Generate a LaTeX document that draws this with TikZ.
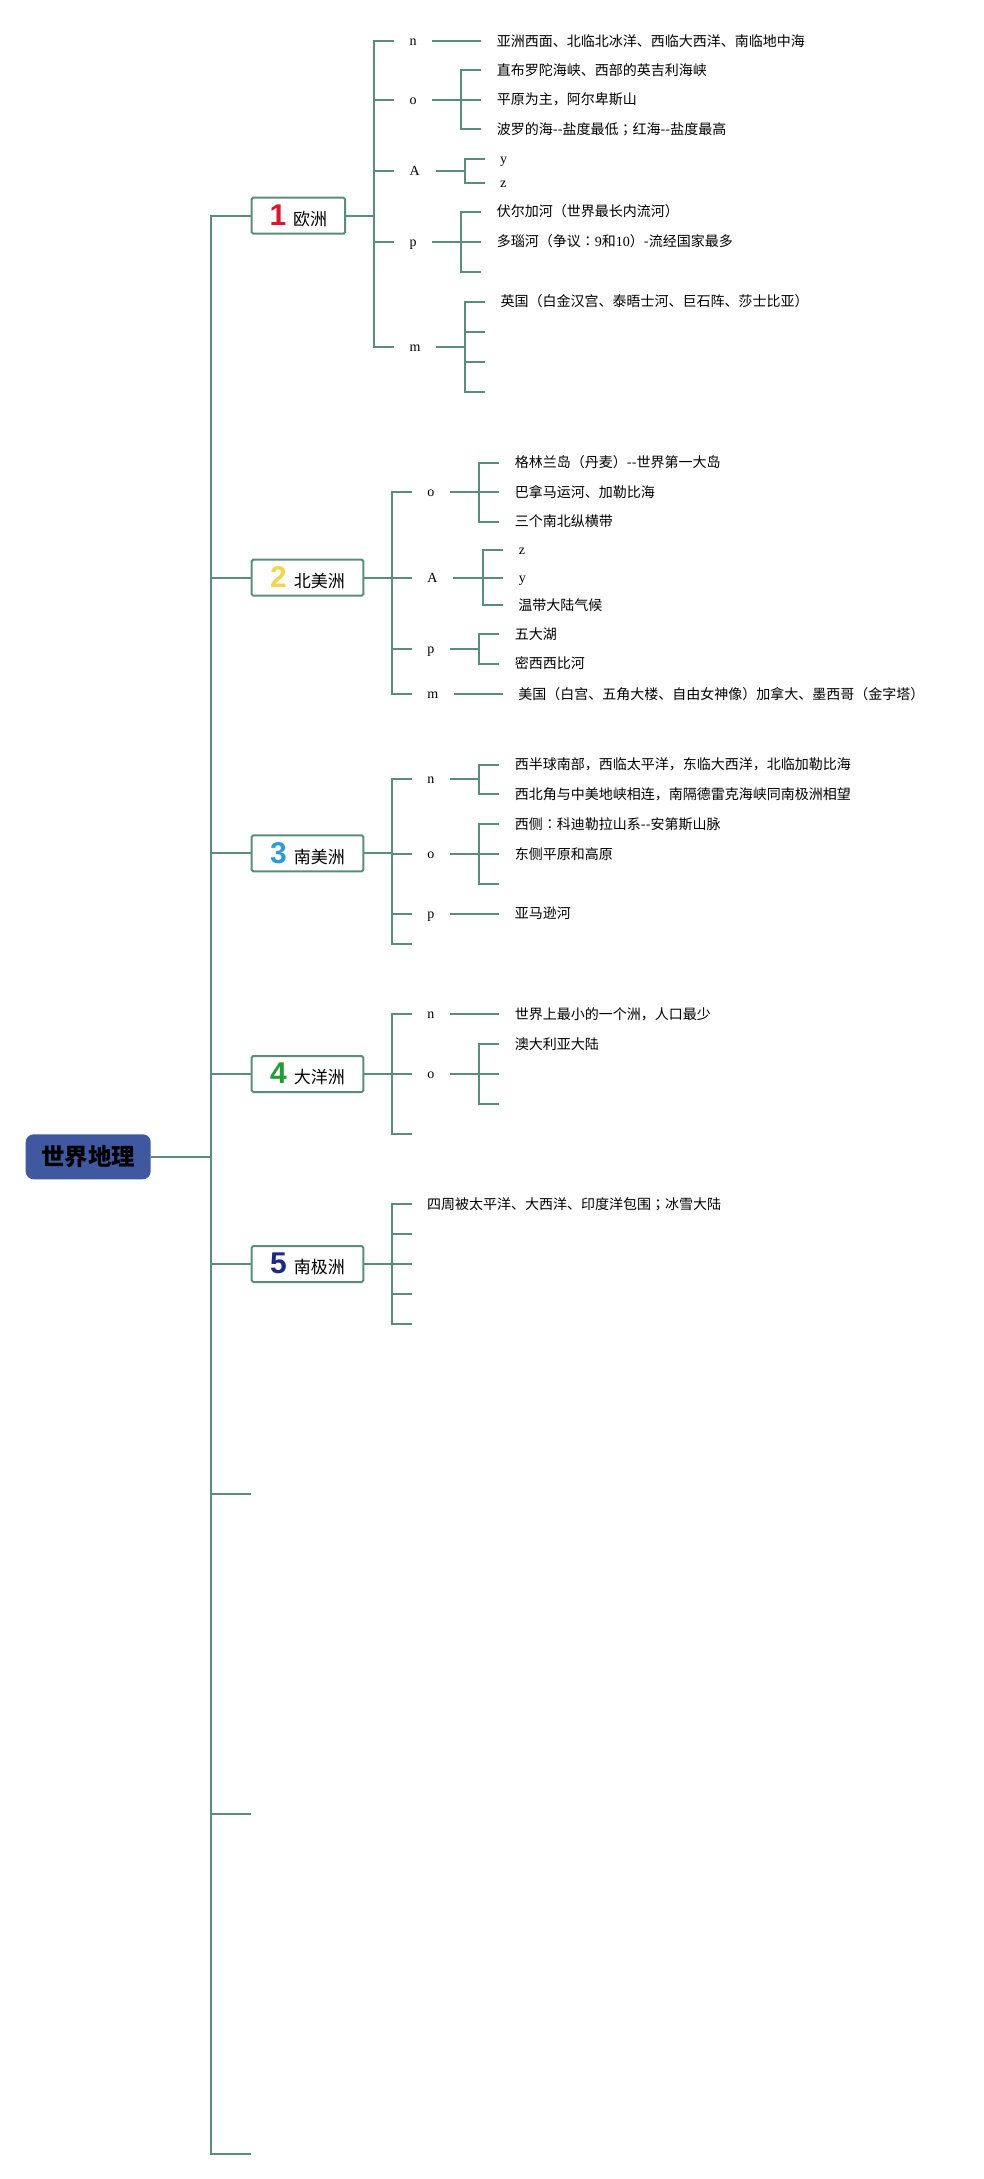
\documentclass[tikz,border=0pt]{standalone}
\usepackage{fontspec}
\setmainfont{Liberation Serif}
\newfontfamily\cjk{Noto Sans CJK SC}
\newfontfamily\cjkt{Noto Sans CJK TC}
\newfontfamily\dig{Liberation Sans}
\usetikzlibrary{calc}
\definecolor{ln}{HTML}{5B8D7F}
\definecolor{rootc}{HTML}{3F58A0}
\definecolor{nA}{HTML}{D7182F}
\definecolor{nB}{HTML}{F3D54B}
\definecolor{nC}{HTML}{2C9BDA}
\definecolor{nD}{HTML}{1E9E34}
\definecolor{nE}{HTML}{1D2A7E}
\newcommand\boxlab[3]{{\dig\bfseries\fontsize{30}{30}\selectfont\color{#1}#2}\hspace{7pt}{\cjk\fontsize{17}{17}\selectfont #3}}
\newcommand\cpunct[1]{{\cjkt #1}}
\begin{document}
\begin{tikzpicture}[x=1pt,y=-1pt,
  wire/.style={draw=ln,line width=2pt},
  elbow/.style={to path={-| ($(\tikztotarget)+(-#1,0)$) -- (\tikztotarget)}},
  elbow/.default=20,
  rootbox/.style={fill=rootc,rounded corners=8pt,minimum width=125pt,minimum height=45pt,inner sep=0pt,font=\cjk\bfseries\fontsize{23.5}{23.5}\selectfont},
  lvone/.style={draw=ln,line width=2pt,fill=white,minimum height=36pt,inner sep=0pt,rounded corners=1.5pt,anchor=west},
  lab/.style={anchor=west,inner xsep=15.5pt,inner ysep=1pt,text height=10pt,text depth=1pt,font=\rmfamily\fontsize{14}{14}\selectfont},
  leaf/.style={anchor=west,inner xsep=16pt,inner ysep=2pt,font=\cjk\fontsize{14}{16}\selectfont},
  sleaf/.style={anchor=west,inner xsep=15.5pt,inner ysep=1pt,text height=10pt,text depth=1pt,font=\rmfamily\fontsize{14}{14}\selectfont}]
\fill[white] (0,0) rectangle (984,2179);
\useasboundingbox (0,0) rectangle (984,2179);

% root
\node[rootbox] (root) at (88.2,1156.8) {世界地理};

% level 1
\node[lvone,minimum width=93.3pt] (B1) at (250.7,215.7) {\boxlab{nA}{1}{欧洲}};
\node[lvone,minimum width=111.6pt] (B2) at (250.7,577.7) {\boxlab{nB}{2}{北美洲}};
\node[lvone,minimum width=111.6pt] (B3) at (250.7,853.3) {\boxlab{nC}{3}{南美洲}};
\node[lvone,minimum width=111.6pt] (B4) at (250.7,1074) {\boxlab{nD}{4}{大洋洲}};
\node[lvone,minimum width=111.6pt] (B5) at (250.7,1264) {\boxlab{nE}{5}{南极洲}};
\coordinate (E6) at (250.7,1493.7);
\coordinate (E7) at (250.7,1813.7);
\coordinate (E8) at (250.7,2153.7);

\foreach \t in {B1,B2,B3,B4,B5,E6,E7,E8}
  \draw[wire] (root.east) to[elbow=40] (\t.west);

% ---------- B1 欧洲 ----------
\node[lab] (b1n) at (394,41) {n};
\node[lab] (b1o) at (394,99.5) {o};
\node[lab] (b1A) at (394,171) {A};
\node[lab] (b1p) at (394,241.5) {p};
\node[lab] (b1m) at (394,346.5) {m};
\foreach \t in {b1n,b1o,b1A,b1p,b1m}
  \draw[wire] (B1.east) to[elbow] (\t.west);

\node[leaf] (b1n1) at (480.7,41) {亚洲西面、北临北冰洋、西临大西洋、南临地中海};
\draw[wire] (b1n.east) to[elbow] (b1n1.west);

\node[leaf] (b1o1) at (480.7,70) {直布罗陀海峡、西部的英吉利海峡};
\node[leaf] (b1o2) at (480.7,99.5) {平原为主，阿尔卑斯山};
\node[leaf] (b1o3) at (480.7,129) {波罗的海-{}-盐度最低\cpunct{；}红海-{}-盐度最高};
\foreach \t in {b1o1,b1o2,b1o3}
  \draw[wire] (b1o.east) to[elbow] (\t.west);

\node[sleaf] (b1A1) at (484.5,159) {y};
\node[sleaf] (b1A2) at (484.5,183) {z};
\foreach \t in {b1A1,b1A2}
  \draw[wire] (b1A.east) to[elbow] (\t.west);

\node[leaf] (b1p1) at (480.7,211.5) {伏尔加河（世界最长内流河）};
\node[leaf] (b1p2) at (480.7,241.5) {多瑙河（争议\cpunct{：}{\rmfamily 9}和{\rmfamily 10}）-流经国家最多};
\coordinate (b1p3) at (480.7,271.5);
\foreach \t in {b1p1,b1p2}
  \draw[wire] (b1p.east) to[elbow] (\t.west);
\draw[wire] (b1p.east) to[elbow] (b1p3);

\node[leaf] (b1m1) at (484.5,301.5) {英国（白金汉宫、泰晤士河、巨石阵、莎士比亚）};
\coordinate (b1m2) at (484.5,331.5);
\coordinate (b1m3) at (484.5,361.5);
\coordinate (b1m4) at (484.5,391.5);
\draw[wire] (b1m.east) to[elbow] (b1m1.west);
\foreach \t in {b1m2,b1m3,b1m4}
  \draw[wire] (b1m.east) to[elbow] (\t);

% ---------- B2 北美洲 ----------
\node[lab] (b2o) at (411.7,492) {o};
\node[lab] (b2A) at (411.7,577.7) {A};
\node[lab] (b2p) at (411.7,648.5) {p};
\node[lab] (b2m) at (411.7,694) {m};
\foreach \t in {b2o,b2A,b2p,b2m}
  \draw[wire] (B2.east) to[elbow] (\t.west);

\node[leaf] (b2o1) at (498.7,462.5) {格林兰岛（丹麦）-{}-世界第一大岛};
\node[leaf] (b2o2) at (498.7,492) {巴拿马运河、加勒比海};
\node[leaf] (b2o3) at (498.7,521.5) {三个南北纵横带};
\foreach \t in {b2o1,b2o2,b2o3}
  \draw[wire] (b2o.east) to[elbow] (\t.west);

\node[sleaf] (b2A1) at (503.2,550) {z};
\node[sleaf] (b2A2) at (503.2,577.7) {y};
\node[leaf,inner xsep=15pt] (b2A3) at (503.2,605) {温带大陆气候};
\foreach \t in {b2A1,b2A2,b2A3}
  \draw[wire] (b2A.east) to[elbow] (\t.west);

\node[leaf] (b2p1) at (498.7,634) {五大湖};
\node[leaf] (b2p2) at (498.7,663.5) {密西西比河};
\foreach \t in {b2p1,b2p2}
  \draw[wire] (b2p.east) to[elbow] (\t.west);

\node[leaf,inner xsep=15pt] (b2m1) at (503.2,694) {美国（白宫、五角大楼、自由女神像）加拿大、墨西哥（金字塔）};
\draw[wire] (b2m.east) to[elbow] (b2m1.west);

% ---------- B3 南美洲 ----------
\node[lab] (b3n) at (411.7,779) {n};
\node[lab] (b3o) at (411.7,854) {o};
\node[lab] (b3p) at (411.7,913.5) {p};
\coordinate (b3e) at (411.7,943.5);
\foreach \t in {b3n,b3o,b3p}
  \draw[wire] (B3.east) to[elbow] (\t.west);
\draw[wire] (B3.east) to[elbow] (b3e);

\node[leaf] (b3n1) at (498.7,764.5) {西半球南部，西临太平洋，东临大西洋，北临加勒比海};
\node[leaf] (b3n2) at (498.7,794) {西北角与中美地峡相连，南隔德雷克海峡同南极洲相望};
\foreach \t in {b3n1,b3n2}
  \draw[wire] (b3n.east) to[elbow] (\t.west);

\node[leaf] (b3o1) at (498.7,824) {西侧\cpunct{：}科迪勒拉山系-{}-安第斯山脉};
\node[leaf] (b3o2) at (498.7,854) {东侧平原和高原};
\coordinate (b3o3) at (498.7,884);
\foreach \t in {b3o1,b3o2}
  \draw[wire] (b3o.east) to[elbow] (\t.west);
\draw[wire] (b3o.east) to[elbow] (b3o3);

\node[leaf] (b3p1) at (498.7,913.5) {亚马逊河};
\draw[wire] (b3p.east) to[elbow] (b3p1.west);

% ---------- B4 大洋洲 ----------
\node[lab] (b4n) at (411.7,1014) {n};
\node[lab] (b4o) at (411.7,1074) {o};
\coordinate (b4e) at (411.7,1134);
\foreach \t in {b4n,b4o}
  \draw[wire] (B4.east) to[elbow] (\t.west);
\draw[wire] (B4.east) to[elbow] (b4e);

\node[leaf] (b4n1) at (498.7,1014) {世界上最小的一个洲，人口最少};
\draw[wire] (b4n.east) to[elbow] (b4n1.west);

\node[leaf] (b4o1) at (498.7,1044) {澳大利亚大陆};
\coordinate (b4o2) at (498.7,1074);
\coordinate (b4o3) at (498.7,1104);
\draw[wire] (b4o.east) to[elbow] (b4o1.west);
\foreach \t in {b4o2,b4o3}
  \draw[wire] (b4o.east) to[elbow] (\t);

% ---------- B5 南极洲 ----------
\node[leaf,inner xsep=15.3pt] (b5a) at (411.7,1204) {四周被太平洋、大西洋、印度洋包围\cpunct{；}冰雪大陆};
\coordinate (b5b) at (411.7,1234);
\coordinate (b5c) at (411.7,1264);
\coordinate (b5d) at (411.7,1294);
\coordinate (b5e) at (411.7,1324);
\draw[wire] (B5.east) to[elbow] (b5a.west);
\foreach \t in {b5b,b5c,b5d,b5e}
  \draw[wire] (B5.east) to[elbow] (\t);
\end{tikzpicture}
\end{document}
